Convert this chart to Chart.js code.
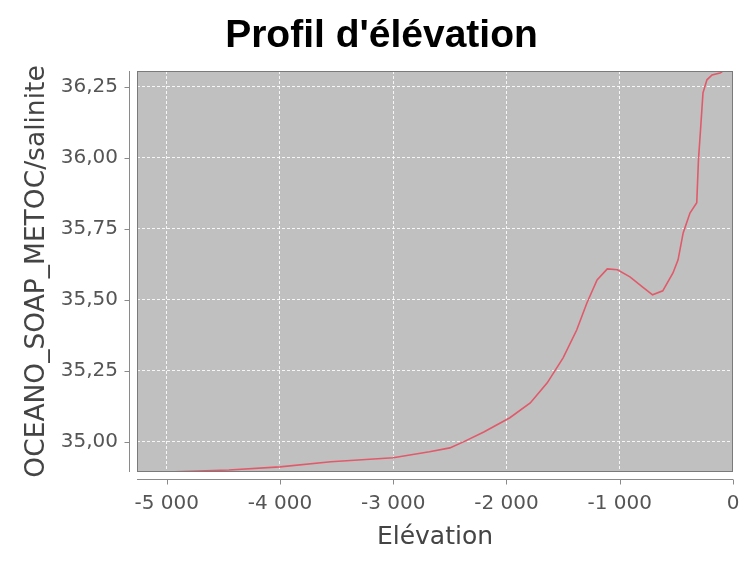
<!DOCTYPE html>
<html>
<head>
<meta charset="utf-8">
<script src="https://cdn.jsdelivr.net/npm/chart.js@4"></script>
<style>
html,body{margin:0;padding:0;background:#fff;}
canvas{display:block;}
</style>
</head>
<body>
<canvas id="c" width="742" height="571"></canvas>
<script>
const chartTitle = "Profil d'élévation";
const xTitle = "Elévation";
const yTitle = "OCEANO_SOAP_METOC/salinite";
const elevation = [-5000, -4450, -4000, -3550, -3000, -2680, -2500, -2380, -2200, -1970, -1790, -1640, -1500, -1380, -1290, -1200, -1110, -1020, -910, -800, -710, -620, -530, -485, -440, -380, -320, -305, -285, -265, -230, -185, -115, -95];
const salinity = [34.894, 34.901, 34.912, 34.930, 34.944, 34.965, 34.979, 35.000, 35.035, 35.085, 35.137, 35.208, 35.296, 35.394, 35.489, 35.570, 35.609, 35.606, 35.581, 35.546, 35.518, 35.532, 35.595, 35.641, 35.736, 35.806, 35.842, 35.993, 36.109, 36.229, 36.275, 36.292, 36.299, 36.303];
const xTicks = [-5000, -4000, -3000, -2000, -1000, 0];
const yTicks = [35.00, 35.25, 35.50, 35.75, 36.00, 36.25];

const points = elevation.map((e, i) => ({x: e, y: salinity[i]}));

function fmtX(v) {
  const s = Math.abs(v).toString().replace(/\B(?=(\d{3})+(?!\d))/g, ' ');
  return (v < 0 ? '-' : '') + s;
}
function fmtY(v) { return v.toFixed(2).replace('.', ','); }

const framePlugin = {
  id: 'frame',
  beforeDraw(chart) {
    const {ctx, chartArea: a} = chart;
    ctx.save();
    ctx.fillStyle = '#c0c0c0';
    ctx.fillRect(a.left, a.top, a.right - a.left, a.bottom - a.top);
    ctx.restore();
  },
  afterDraw(chart) {
    const {ctx, chartArea: a, scales} = chart;
    ctx.save();
    ctx.strokeStyle = '#7a7a7a';
    ctx.lineWidth = 1;
    ctx.strokeRect(a.left + 0.5, a.top + 0.5, a.right - a.left - 1, a.bottom - a.top - 1);
    // detached axes
    ctx.strokeStyle = '#8a8a8a';
    const ax = a.left - 8 + 0.5;
    ctx.beginPath();
    ctx.moveTo(ax, a.top); ctx.lineTo(ax, a.bottom);
    yTicks.forEach(v => {
      const y = Math.round(scales.y.getPixelForValue(v)) + 0.5;
      ctx.moveTo(ax - 5, y); ctx.lineTo(ax, y);
    });
    const ay = a.bottom + 7 + 0.5;
    ctx.moveTo(a.left, ay); ctx.lineTo(a.right, ay);
    xTicks.forEach(v => {
      const x = Math.round(scales.x.getPixelForValue(v)) + 0.5;
      ctx.moveTo(x, ay); ctx.lineTo(x, ay + 5);
    });
    ctx.stroke();
    // chart title
    ctx.fillStyle = '#000';
    ctx.font = 'bold 39px "Liberation Sans", Arial, sans-serif';
    ctx.textAlign = 'center';
    ctx.textBaseline = 'alphabetic';
    ctx.fillText(chartTitle, 381.5, 47);
    ctx.restore();
  }
};

new Chart(document.getElementById('c'), {
  type: 'scatter',
  data: {
    datasets: [{
      data: points,
      showLine: true,
      borderColor: '#e05a6a',
      borderWidth: 1.6,
      pointRadius: 0,
      tension: 0,
      fill: false
    }]
  },
  options: {
    responsive: false,
    animation: false,
    layout: {padding: {left: 0, right: 9, top: 71, bottom: 0}},
    plugins: {
      legend: {display: false},
      tooltip: {enabled: false},
      title: {display: false}
    },
    scales: {
      x: {
        type: 'linear',
        min: -5262,
        max: 0,
        afterFit(s) { s.height = 99; s.paddingLeft = 0; s.paddingRight = 0; },
        afterBuildTicks(s) { s.ticks = xTicks.map(v => ({value: v})); },
        border: {display: false, dash: [3, 2]},
        grid: {color: 'rgba(255,255,255,0.85)', lineWidth: 1, drawTicks: false},
        ticks: {
          autoSkip: false, maxRotation: 0, padding: 20,
          color: '#555',
          font: {family: '"DejaVu Sans", sans-serif', size: 20},
          callback: v => fmtX(v)
        },
        title: {
          display: true, text: xTitle, color: '#444',
          font: {family: '"DejaVu Sans", sans-serif', size: 25, lineHeight: 1.2},
          padding: {top: 0, bottom: 19}
        }
      },
      y: {
        type: 'linear',
        min: 34.894,
        max: 36.306,
        afterFit(s) { s.width = 137; s.paddingTop = 0; s.paddingBottom = 0; },
        afterBuildTicks(s) { s.ticks = yTicks.map(v => ({value: v})); },
        border: {display: false, dash: [3, 2]},
        grid: {color: 'rgba(255,255,255,0.85)', lineWidth: 1, drawTicks: false},
        ticks: {
          autoSkip: false, padding: 19,
          color: '#555',
          font: {family: '"DejaVu Sans", sans-serif', size: 20},
          callback: v => fmtY(v)
        },
        title: {
          display: true, text: yTitle, color: '#444',
          font: {family: '"DejaVu Sans", sans-serif', size: 26.5, lineHeight: 1.2},
          padding: {top: 21, bottom: 0}
        }
      }
    }
  },
  plugins: [framePlugin]
});
</script>
</body>
</html>
